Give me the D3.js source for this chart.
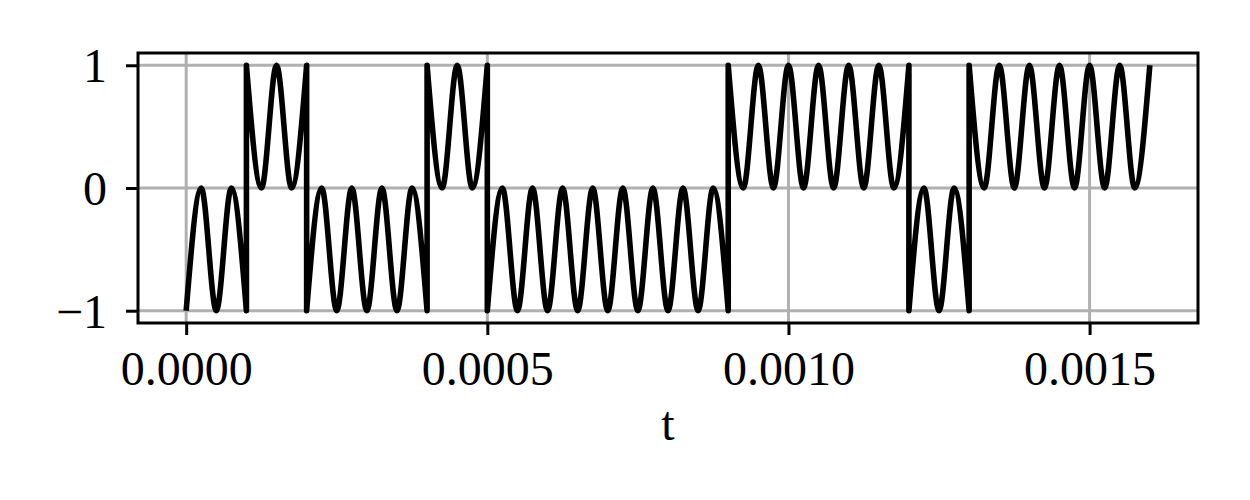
<!DOCTYPE html>
<html lang="en">
<head>
  <meta charset="utf-8" />
  <title>Bit signal</title>
  <style>
    body {
      margin: 0;
      background: #fff;
    }

    #graphic text {
      font-family: "Liberation Serif", "DejaVu Serif", serif;
      font-size: 48px;
      fill: #000;
    }

    path.domain {
      display: none;
    }
  </style>
</head>

<body>
  <div id="graphic"></div>

  <script src="https://cdn.jsdelivr.net/npm/d3@7"></script>
  <script>
    // bit sequence, each bit lasts 0.0001 s
    var bits = [0, 1, 0, 0, 1, 0, 0, 0, 0, 1, 1, 1, 0, 1, 1, 1];
    var bitDuration = 0.0001;
    // each bit holds two carrier periods -> 4 half periods between extremes
    var extremesPerBit = 4;
    // levels the curve swings between for a 0 bit and a 1 bit: [edge, middle]
    var levels = { 0: [-1, 0], 1: [1, 0] };

    var xTicks = [0, 0.0005, 0.0010, 0.0015];
    var yTicks = [-1, 0, 1];
    var xLabel = "t";

    var width = 1250, height = 500;
    var margin = { top: 53, right: 52, bottom: 177, left: 138 };
    var chart_width = width - margin.left - margin.right;
    var chart_height = height - margin.top - margin.bottom;

    // group the bits into runs of equal value
    var runs = [];
    bits.forEach(function(b, i) {
      var last = runs[runs.length - 1];
      if (last && last.bit === b) {
        last.n++;
      } else {
        runs.push({ bit: b, start: i, n: 1 });
      }
    });

    // the extremes of each run: edge, middle, edge, ... every half period
    var step = bitDuration / extremesPerBit;
    runs.forEach(function(r) {
      r.points = d3.range(r.n * extremesPerBit + 1).map(function(k) {
        return { t: r.start * bitDuration + k * step, v: levels[r.bit][k % 2] };
      });
    });

    var tMax = bits.length * bitDuration;
    var pad = tMax * 0.05;

    var x = d3.scaleLinear()
      .domain([-pad, tMax + pad])
      .range([0, chart_width]);

    var y = d3.scaleLinear()
      .domain([-1.1, 1.1])
      .range([chart_height, 0]);

    var svg = d3.select("#graphic")
      .append("svg")
      .attr("width", width)
      .attr("height", height)
      .append("g")
      .attr("transform", "translate(" + margin.left + "," + margin.top + ")");

    // grid
    svg.append("g")
      .selectAll("line.vgrid")
      .data(xTicks)
      .enter().append("line")
      .attr("x1", function(d) { return x(d); })
      .attr("x2", function(d) { return x(d); })
      .attr("y1", 0)
      .attr("y2", chart_height)
      .attr("stroke", "#b0b0b0")
      .attr("stroke-width", 3);

    svg.append("g")
      .selectAll("line.hgrid")
      .data(yTicks)
      .enter().append("line")
      .attr("x1", 0)
      .attr("x2", chart_width)
      .attr("y1", function(d) { return y(d); })
      .attr("y2", function(d) { return y(d); })
      .attr("stroke", "#b0b0b0")
      .attr("stroke-width", 3);

    // smooth curve through the extremes of every run, runs joined by vertical jumps
    var line = d3.line()
      .x(function(d) { return x(d.t); })
      .y(function(d) { return y(d.v); })
      .curve(d3.curveMonotoneX);

    var pathString = runs.map(function(r, i) {
      var p = line(r.points);
      return i === 0 ? p : "L" + p.slice(1);
    }).join("");

    svg.append("path")
      .attr("d", pathString)
      .attr("fill", "none")
      .attr("stroke", "#000")
      .attr("stroke-width", 5.6)
      .attr("stroke-linejoin", "round");

    // axes
    var xAxis = d3.axisBottom(x)
      .tickValues(xTicks)
      .tickFormat(d3.format(".4f"))
      .tickSize(12)
      .tickSizeOuter(0);

    var yAxis = d3.axisLeft(y)
      .tickValues(yTicks)
      .tickFormat(d3.format("d"))
      .tickSize(12)
      .tickSizeOuter(0);

    var gx = svg.append("g")
      .attr("class", "x axis")
      .attr("transform", "translate(0," + chart_height + ")")
      .call(xAxis);

    gx.selectAll(".tick line").attr("stroke", "#000").attr("stroke-width", 3);
    gx.selectAll(".tick text")
      .attr("y", 62)
      .attr("dy", null)
      .attr("font-size", null)
      .attr("font-family", null);

    var gy = svg.append("g")
      .attr("class", "y axis")
      .call(yAxis);

    gy.selectAll(".tick line").attr("stroke", "#000").attr("stroke-width", 3);
    gy.selectAll(".tick text")
      .attr("x", -31)
      .attr("dy", "0.34em")
      .attr("font-size", null)
      .attr("font-family", null);

    // frame
    svg.append("rect")
      .attr("width", chart_width)
      .attr("height", chart_height)
      .attr("fill", "none")
      .attr("stroke", "#000")
      .attr("stroke-width", 3);

    svg.append("text")
      .attr("x", chart_width / 2)
      .attr("y", 387)
      .attr("text-anchor", "middle")
      .text(xLabel);
  </script>
</body>

</html>
